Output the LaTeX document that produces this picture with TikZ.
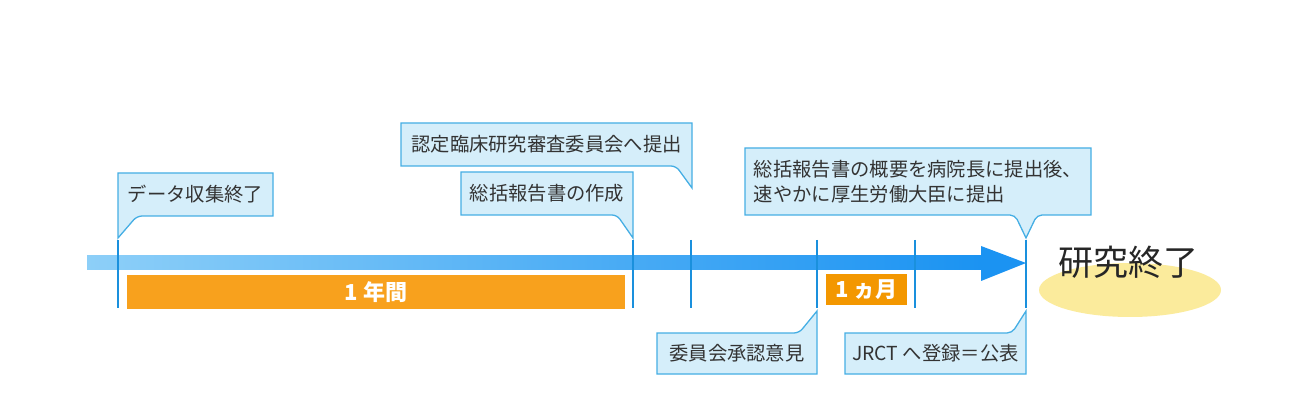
\documentclass[tikz,border=0pt]{standalone}
\usepackage{fontspec}
\setmainfont{Noto Sans CJK JP}
\usetikzlibrary{shapes.geometric,backgrounds}
\definecolor{cfill}{HTML}{D5EEFA}
\definecolor{cline}{HTML}{45AEE4}
\definecolor{tickc}{HTML}{1A90DD}
\definecolor{axisL}{HTML}{8DCFF8}
\definecolor{axisR}{HTML}{1B93F2}
\definecolor{orng}{HTML}{F8A11D}
\definecolor{orngb}{HTML}{F39700}
\definecolor{ylw}{HTML}{FBEB9C}
\definecolor{txt}{HTML}{333333}

\begin{document}
\begin{tikzpicture}[x=1pt,y=-1pt,
        note/.style={anchor=north west,inner sep=0pt,outer sep=0pt,minimum height=43pt,
            text=txt,font=\fontsize{19.3}{25}\selectfont},
        notebox/.style={draw=cline,fill=cfill,line width=1.3pt},
        span/.style={anchor=north west,inner sep=0pt,text=white,
            font=\fontsize{22}{22}\selectfont\bfseries},
        tick/.style={draw=tickc,line width=2.5pt}]
    \useasboundingbox (0,0) rectangle (1300,419);
    % time axis
    \shade[left color=axisL,right color=axisR] (87,256) rectangle (981,270);
    \fill[axisR] (981,246) -- (1026,263) -- (981,281) -- cycle;
    \foreach \x [count=\i] in {118,633,691,817,915,1026}
        {\coordinate (t\i) at (\x,238);
         \coordinate (b\i) at (\x,311);
         \draw[tick,shorten <=2pt,shorten >=3pt] (t\i) -- (b\i);}
    \coordinate (p3) at (692,188);
    % periods
    \node[span,fill=orng,minimum width=498pt,minimum height=34pt] (year) at (127,275) {1 年間};
    \node[span,fill=orngb,minimum width=81pt,minimum height=31pt] (month) at (826,274) {1 ヵ月};
    % end
    \node[ellipse,fill=ylw,inner sep=0pt,minimum width=182pt,minimum height=54pt] (oval) at (1130,290) {};
    \node[text=black!85,font=\fontsize{35}{35}\selectfont] (fin) at (1128,262) {研究終了};
    % notes
    \node[note,minimum width=155pt] (d1) at (118,173) {データ収集終了};
    \node[note,minimum width=172pt] (d2) at (461,172) {総括報告書の作成};
    \node[note,minimum width=291pt] (d3) at (401,123) {認定臨床研究審査委員会へ提出};
    \node[note,minimum width=346pt,minimum height=67pt,align=left] (d4) at (745,148)
        {総括報告書の概要を病院長に提出後、\\速やかに厚生労働大臣に提出};
    \node[note,minimum width=160pt,minimum height=41pt] (d5) at (657,333) {委員会承認意見};
    \node[note,minimum width=181pt,minimum height=41pt] (d6) at (845,333) {JRCT へ登録＝公表};
    \begin{scope}[on background layer]
        \draw[notebox] (d1.north west) -- (d1.north east) -- (d1.south east)
            -- ([xshift=25pt]d1.south west) [rounded corners=5pt] -- ([xshift=19pt]d1.south west)
            [sharp corners] -- (t1) -- cycle;
        \draw[notebox] (d2.north east) -- (d2.north west) -- (d2.south west)
            -- ([xshift=-22pt]d2.south east) [rounded corners=5pt] -- ([xshift=-16pt]d2.south east)
            [sharp corners] -- (t2) -- cycle;
        \draw[notebox] (d3.north east) -- (d3.north west) -- (d3.south west)
            -- ([xshift=-22pt]d3.south east) [rounded corners=5pt] -- ([xshift=-16pt]d3.south east)
            [sharp corners] -- (p3) -- cycle;
        \draw[notebox] (d4.south east) -- (d4.north east) -- (d4.north west) -- (d4.south west)
            -- ([xshift=-84pt]d4.south east) [rounded corners=5pt] -- ([xshift=-76pt]d4.south east)
            [sharp corners] -- (t6) [rounded corners=5pt] -- ([xshift=-54pt]d4.south east)
            [sharp corners] -- ([xshift=-46pt]d4.south east) -- cycle;
        \draw[notebox] (d5.south east) -- (d5.south west) -- (d5.north west)
            -- ([xshift=-24pt]d5.north east) [rounded corners=5pt] -- ([xshift=-18pt]d5.north east)
            [sharp corners] -- (b4) -- cycle;
        \draw[notebox] (d6.south east) -- (d6.south west) -- (d6.north west)
            -- ([xshift=-20pt]d6.north east) [rounded corners=5pt] -- ([xshift=-14pt]d6.north east)
            [sharp corners] -- (b6) -- cycle;
    \end{scope}
\end{tikzpicture}
\end{document}
